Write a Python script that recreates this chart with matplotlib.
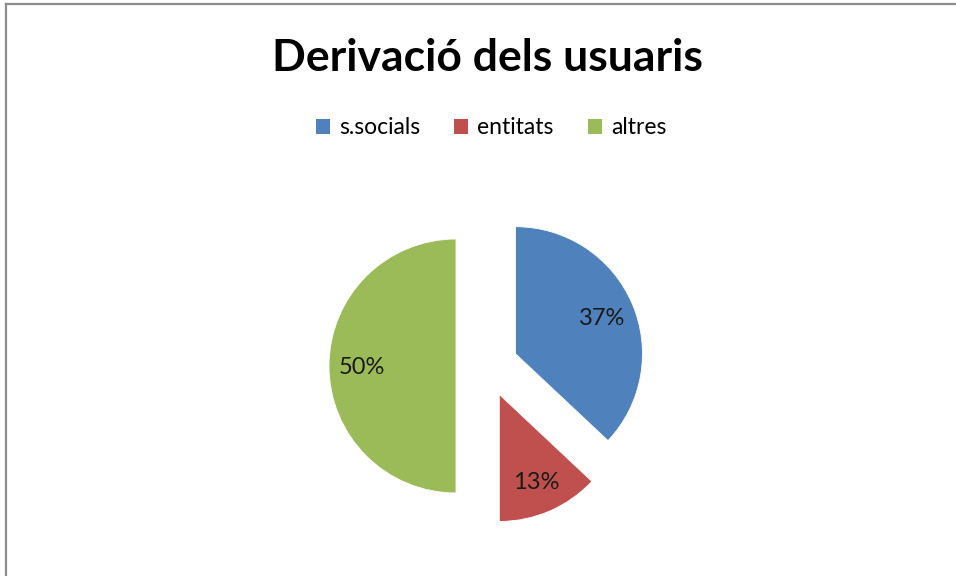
import matplotlib

matplotlib.use("Agg")
import matplotlib.pyplot as plt
from matplotlib.lines import Line2D
from matplotlib.patches import Patch

categories = ["s.socials", "entitats", "altres"]
shares = [37, 13, 50]
colors = ["#4F81BD", "#C0504D", "#9BBB59"]

plt.rcParams["font.family"] = ["Lato", "DejaVu Sans"]

W, H = 956, 576
fig = plt.figure(figsize=(W / 100, H / 100), dpi=100)
ax = fig.add_axes([0, 0, 1, 1])

# pie in pixel-like data units (y measured from bottom)
cx, cy, r = 487, H - 366, 127
wedges, texts = ax.pie(
    shares,
    colors=colors,
    center=(cx, cy),
    radius=r,
    startangle=90,
    counterclock=False,
    explode=[31] * len(shares),
    labels=[f"{v}%" for v in shares],
    labeldistance=0.74,
    wedgeprops={"linewidth": 0.6, "edgecolor": "white"},
    textprops={"fontsize": 17, "color": "#1a1a1a", "ha": "center", "va": "center_baseline"},
)
ax.set_xlim(0, W)
ax.set_ylim(0, H)
ax.set_aspect("equal")
ax.set_axis_off()

fig.text(487 / W, 1 - 58 / H, "Derivació dels usuaris", ha="center", va="center",
         fontsize=32, fontweight="bold", color="black")

handles = [Patch(facecolor=c, edgecolor="none", label=n) for n, c in zip(categories, colors)]
fig.legend(handles=handles, loc="center", bbox_to_anchor=(491 / W, 1 - 128 / H), ncol=3,
           frameon=False, fontsize=16.5, handlelength=0.6, handleheight=0.6,
           handletextpad=0.4, columnspacing=1.5)

# outer border (only top and left visible)
fig.add_artist(Line2D([6 / W, 6 / W], [0, 1 - 4 / H], transform=fig.transFigure, color="#8c8c8c", linewidth=1.6))
fig.add_artist(Line2D([6 / W, 1], [1 - 4 / H, 1 - 4 / H], transform=fig.transFigure, color="#8c8c8c", linewidth=1.6))

fig.savefig("out.png", dpi=100, facecolor="white")
